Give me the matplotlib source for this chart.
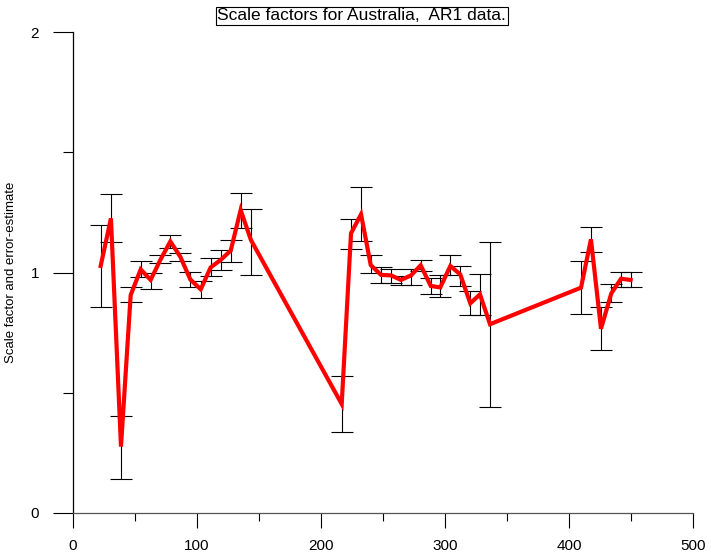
import numpy as np
from matplotlib import pyplot as plt
from matplotlib.ticker import MultipleLocator

plt.rcParams['font.family'] = ['Liberation Sans', 'DejaVu Sans']

# sample position, scale factor, error bar top and bottom
pos = [22.3, 30.6, 38.7, 46.5, 54.6, 62.6, 70.4, 78.5, 86.6, 94.6,
       103.0, 111.0, 119.0, 127.2, 135.2, 143.5, 216.7, 224.2, 232.3, 240.1,
       248.4, 256.5, 264.5, 272.6, 280.4, 288.5, 296.2, 304.3, 312.3, 320.4,
       328.2, 336.3, 409.7, 417.7, 425.8, 434.1, 441.9, 449.7]
scale = [1.027, 1.225, 0.276, 0.906, 1.013, 0.969, 1.052, 1.129, 1.065, 0.971,
         0.930, 1.021, 1.052, 1.091, 1.260, 1.135, 0.453, 1.163, 1.242, 1.031,
         0.990, 0.988, 0.969, 0.988, 1.030, 0.944, 0.938, 1.027, 0.992, 0.872,
         0.909, 0.785, 0.937, 1.138, 0.766, 0.913, 0.974, 0.969]
err_top = [1.196, 1.325, 0.403, 0.941, 1.046, 0.996, 1.074, 1.158, 1.082, 1.004,
           0.965, 1.060, 1.094, 1.137, 1.331, 1.263, 0.568, 1.223, 1.357, 1.073,
           1.023, 1.015, 0.985, 1.015, 1.050, 0.979, 0.988, 1.071, 1.029, 0.924,
           0.995, 1.126, 1.048, 1.188, 0.858, 0.951, 1.001, 1.001]
err_bot = [0.858, 1.126, 0.141, 0.876, 0.983, 0.933, 1.038, 1.100, 1.046, 0.938,
           0.894, 0.987, 1.009, 1.044, 1.184, 0.990, 0.335, 1.098, 1.129, 0.999,
           0.958, 0.958, 0.949, 0.950, 1.007, 0.909, 0.898, 0.988, 0.944, 0.823,
           0.823, 0.439, 0.827, 1.085, 0.678, 0.879, 0.941, 0.941]

pos = np.array(pos)
scale = np.array(scale)
err_top = np.array(err_top)
err_bot = np.array(err_bot)

fig = plt.figure(figsize=(7.11, 5.55), dpi=100)
ax = fig.add_axes([73 / 711, 42 / 555, 620 / 711, 481 / 555])

ax.errorbar(pos, scale, yerr=[scale - err_bot, err_top - scale], fmt='none',
            ecolor='black', elinewidth=0.8, capsize=7.9, capthick=0.8, zorder=2)
ax.plot(pos, scale, color='#ff0000', linewidth=3, solid_joinstyle='miter', zorder=3)

ax.set_xlim(0, 500)
ax.set_ylim(0, 2)
for s in ['top', 'right']:
    ax.spines[s].set_visible(False)
ax.spines['left'].set_linewidth(0.9)
ax.spines['bottom'].set_linewidth(0.9)
ax.spines['bottom'].set_color('#555555')

ax.xaxis.set_major_locator(MultipleLocator(100))
ax.xaxis.set_minor_locator(MultipleLocator(50))
ax.yaxis.set_major_locator(MultipleLocator(1))
ax.yaxis.set_minor_locator(MultipleLocator(0.5))
ax.tick_params(axis='x', which='major', direction='out', length=10.8, width=0.8, pad=8, labelsize=11)
ax.tick_params(axis='x', which='minor', direction='out', length=5.8, width=0.8)
ax.tick_params(axis='y', which='major', direction='out', length=14.4, width=0.8, pad=10, labelsize=11)
ax.tick_params(axis='y', which='minor', direction='out', length=7.2, width=0.8)

fig.text(11 / 711, 1 - 272 / 555, 'Scale factor and error-estimate', rotation=90,
         ha='center', va='center', fontsize=9.5)
fig.text(0.509, 1 - 16 / 555, 'Scale factors for Australia,  AR1 data.', ha='center', va='center',
         fontsize=12.5, bbox=dict(boxstyle='square,pad=0.1', facecolor='white', edgecolor='black', linewidth=0.8))

plt.savefig('out.png', dpi=100)
